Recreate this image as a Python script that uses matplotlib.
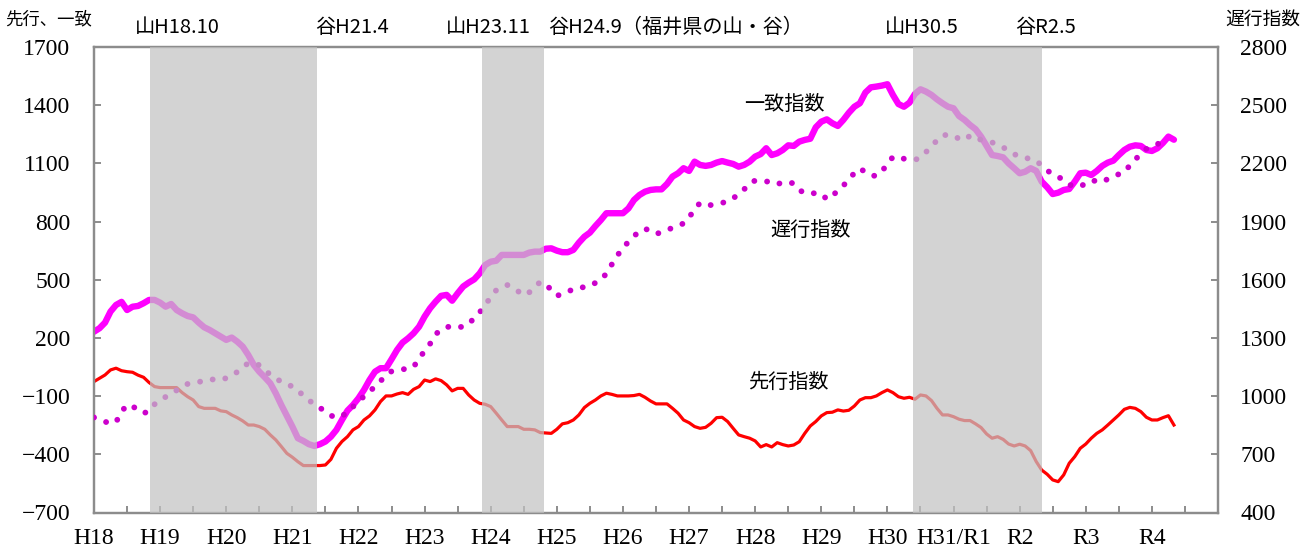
import numpy as np
import matplotlib
matplotlib.use("Agg")
import matplotlib.pyplot as plt

# Monthly composite indexes, Jan H18 (2006) onward, one value per month
coincident = [
    232, 250, 279, 336, 370, 386, 344, 361, 365, 379, 396, 396,
    382, 361, 375, 344, 327, 313, 306, 279, 255, 241, 224, 207,
    190, 202, 181, 155, 112, 61, 26, -3, -34, -86, -146, -202,
    -257, -317, -331, -348, -357, -348, -334, -309, -274, -223, -175, -146,
    -111, -68, -17, 26, 44, 44, 90, 138, 176, 198, 224, 258,
    310, 353, 387, 417, 422, 392, 430, 465, 485, 502, 533, 576,
    593, 598, 628, 628, 628, 628, 628, 640, 645, 645, 660, 662,
    650, 642, 642, 654, 691, 722, 743, 777, 808, 843, 843, 843,
    843, 868, 911, 937, 954, 963, 966, 966, 994, 1032, 1049, 1075,
    1061, 1109, 1092, 1087, 1092, 1104, 1112, 1104, 1097, 1083, 1092, 1109,
    1135, 1148, 1178, 1143, 1152, 1169, 1193, 1190, 1212, 1221, 1227, 1286,
    1315, 1327, 1307, 1293, 1324, 1361, 1392, 1410, 1465, 1492, 1496, 1501,
    1508, 1453, 1406, 1392, 1413, 1458, 1482, 1470, 1453, 1430, 1410, 1392,
    1384, 1344, 1324, 1298, 1276, 1238, 1190, 1143, 1138, 1131, 1100, 1075,
    1049, 1057, 1075, 1061, 1006, 977, 942, 949, 963, 968, 1006, 1049,
    1052, 1040, 1061, 1087, 1104, 1114, 1143, 1169, 1186, 1193, 1190, 1169,
    1164, 1178, 1205, 1238, 1222,
]

leading = [
    -25, -8, 9, 35, 44, 31, 26, 23, 8, -3, -30, -51,
    -56, -56, -56, -56, -82, -103, -120, -154, -163, -163, -163, -176,
    -180, -197, -211, -228, -249, -249, -257, -271, -300, -326, -360, -395,
    -415, -438, -458, -458, -458, -458, -455, -426, -369, -334, -309, -274,
    -257, -223, -202, -171, -128, -99, -99, -89, -82, -91, -65, -51,
    -17, -25, -11, -20, -42, -73, -60, -60, -94, -120, -137, -142,
    -154, -188, -223, -257, -257, -257, -271, -271, -274, -288, -290, -292,
    -271, -243, -237, -223, -197, -159, -137, -120, -99, -85, -91, -99,
    -99, -99, -97, -91, -106, -125, -140, -140, -140, -163, -188, -223,
    -237, -257, -266, -261, -240, -211, -209, -231, -266, -300, -309, -317,
    -331, -362, -350, -362, -340, -350, -357, -352, -335, -292, -254, -231,
    -202, -185, -183, -171, -177, -173, -151, -120, -108, -108, -99, -82,
    -68, -82, -103, -111, -106, -116, -94, -99, -123, -163, -197, -197,
    -206, -219, -226, -226, -243, -262, -295, -317, -309, -323, -347, -357,
    -348, -357, -381, -437, -481, -503, -532, -541, -506, -446, -412, -369,
    -347, -317, -292, -274, -249, -223, -197, -168, -158, -163, -180, -209,
    -223, -223, -211, -201, -249,
]

# lagging index is read on the right-hand axis
lagging = [
    890, 878, 868, 860, 866, 920, 955, 949, 926, 912, 922, 958,
    979, 996, 1012, 1030, 1050, 1063, 1071, 1073, 1079, 1087, 1085, 1083,
    1093, 1104, 1125, 1145, 1172, 1168, 1160, 1135, 1110, 1090, 1075, 1065,
    1048, 1032, 1000, 980, 955, 940, 920, 900, 888, 900, 912, 945,
    975, 998, 1023, 1050, 1078, 1105, 1128, 1134, 1138, 1142, 1150, 1195,
    1232, 1270, 1318, 1345, 1355, 1362, 1358, 1356, 1375, 1400, 1432, 1470,
    1510, 1546, 1560, 1573, 1560, 1540, 1520, 1535, 1560, 1590, 1572, 1550,
    1518, 1525, 1540, 1550, 1561, 1561, 1568, 1584, 1600, 1632, 1680, 1725,
    1766, 1795, 1826, 1848, 1864, 1850, 1836, 1845, 1856, 1868, 1880, 1890,
    1920, 1965, 1996, 1986, 1985, 1990, 1996, 2005, 2018, 2046, 2066, 2100,
    2111, 2111, 2108, 2098, 2092, 2103, 2104, 2096, 2063, 2046, 2046, 2046,
    2044, 2015, 2030, 2062, 2085, 2118, 2150, 2174, 2155, 2138, 2135, 2160,
    2195, 2234, 2230, 2224, 2221, 2218, 2230, 2258, 2290, 2318, 2346, 2346,
    2344, 2326, 2320, 2343, 2340, 2320, 2314, 2308, 2296, 2283, 2264, 2248,
    2234, 2226, 2226, 2210, 2192, 2163, 2145, 2130, 2115, 2090, 2082, 2080,
    2098, 2113, 2108, 2103, 2120, 2135, 2144, 2154, 2190, 2220, 2250, 2275,
    2290, 2300, 2307, 2318,
]

year_labels = ["H18", "H19", "H20", "H21", "H22", "H23", "H24", "H25", "H26",
               "H27", "H28", "H29", "H30", "H31/R1", "R2", "R3", "R4"]

# shaded recession spans (month index from Jan H18), as drawn in the source
band_start = [10.2, 70.4, 148.6]
band_end = [40.4, 81.6, 172.0]
turn_labels = ["山H18.10", "谷H21.4", "山H23.11", "谷H24.9（福井県の山・谷）",
               "山H30.5", "谷R2.5"]

JP = ["Noto Sans CJK JP", "DejaVu Sans"]
SERIF = "Liberation Serif"
GREY = "#8c8c8c"
N_MONTHS = 204

fig = plt.figure(figsize=(13.16, 5.56), dpi=100)
ax = fig.add_axes([94 / 1316, 1 - 512.5 / 556, 1124 / 1316, 465.5 / 556])
ax2 = ax.twinx()

ax.plot(np.arange(len(leading)), leading, color="#ff0000", lw=2.3,
        solid_joinstyle="round", zorder=2)
ax.plot(np.arange(len(coincident)), coincident, color="#ff00ff", lw=4.6,
        solid_joinstyle="round", solid_capstyle="round", zorder=3)
ax2.plot(np.arange(len(lagging)), lagging, color="#cc00cc", lw=4.2,
         linestyle=(0, (0.01, 2.2)), dash_capstyle="round", zorder=3)

# recession shading sits on top of the lines, so they show through faded
for s, e in zip(band_start, band_end):
    ax2.axvspan(s, e, color="#c2c2c2", alpha=0.72, lw=0, zorder=5)

ax.set_xlim(0, N_MONTHS)
ax.set_ylim(-700, 1700)
ax2.set_ylim(400, 2800)
ax.set_yticks(np.arange(-700, 1701, 300))
ax2.set_yticks(np.arange(400, 2801, 300))

ticks = np.arange(0, N_MONTHS + 1, 6)
labels = []
for k in ticks:
    labels.append(year_labels[k // 12] if k % 12 == 0 and k // 12 < len(year_labels) else "")
ax.set_xticks(ticks)
ax.set_xticklabels(labels)

for a in (ax, ax2):
    for sp in a.spines.values():
        sp.set_color(GREY)
        sp.set_linewidth(1.6)
    a.tick_params(direction="in", color=GREY, width=1.4, length=5,
                  labelsize=17)
    for lab in a.get_xticklabels() + a.get_yticklabels():
        lab.set_fontfamily(SERIF)
ax.tick_params(axis="y", pad=17)
ax.tick_params(axis="x", pad=11)
ax2.tick_params(axis="y", pad=16)

# series names inside the plot
ax.text(118, 1406, "一致指数", family=JP, fontsize=14.5, va="center")
ax.text(122.7, 757, "遅行指数", family=JP, fontsize=14.5, va="center")
ax.text(118.7, -27, "先行指数", family=JP, fontsize=14.5, va="center")

# axis titles
fig.text(49 / 1316, 1 - 19 / 556, "先行、一致", family=JP, fontsize=12.5,
         ha="center", va="center")
fig.text(1263 / 1316, 1 - 19 / 556, "遅行指数", family=JP, fontsize=13.5,
         ha="center", va="center")

# peak / trough annotations along the top
turn_x = [177, 352, 488, 548, 922, 1046]
turn_ha = ["center", "center", "center", "left", "center", "center"]
for lab, x, ha in zip(turn_labels, turn_x, turn_ha):
    fig.text(x / 1316, 1 - 27 / 556, lab, family=JP, fontsize=14.5,
             ha=ha, va="center")

fig.savefig("out.png", dpi=100)
